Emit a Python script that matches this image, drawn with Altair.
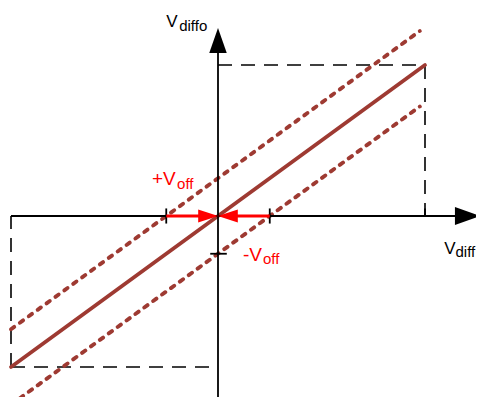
import altair as alt
import pandas as pd

# ---------------- data (chart units, volts) ----------------
main_x = [-4.0, 4.0]
main_y = [-4.0, 4.0]

plus_off_x = [-4.0, 3.9]
plus_off_y = [-3.0, 4.9]
minus_off_x = [-4.0, 3.9]
minus_off_y = [-5.0, 2.9]

box_x = [0.0, 4.0, -4.0, -4.0]
box_y = [4.0, 4.0, -4.0, -4.0]
box_x2 = [4.0, 4.0, 0.0, -4.0]
box_y2 = [4.0, 0.0, -4.0, 0.0]

axis_x = [-4.0, 0.0]
axis_y = [0.0, -5.2]
axis_x2 = [4.64, 0.0]
axis_y2 = [0.0, 4.34]

tick_x = [-1.0, 1.0, 4.0, -0.15]
tick_y = [-0.2, -0.2, 0.0, -1.0]
tick_x2 = [-1.0, 1.0, 4.0, 0.17]
tick_y2 = [0.2, 0.2, 0.2, -1.0]

head_x = [4.82, 0.0]
head_y = [0.0, 4.65]
head_shape = ["M-1,-0.72L1,0L-1,0.72Z", "M0,-1L0.7,1L-0.7,1Z"]

red_x = [-1.0, 1.0]
red_x2 = [-0.3, 0.3]
red_y = [0.0, 0.0]
red_head_x = [-0.19, 0.19]
red_head_y = [0.0, 0.0]
red_head_shape = ["M-1,-0.65L1,0L-1,0.65Z", "M1,-0.65L-1,0L1,0.65Z"]

label_text = ["+V", "off", "-V", "off", "V", "diffo", "V", "diff"]
label_x = [-1.275, -0.79, 0.483, 0.87, -1.0, -0.75, 4.37, 4.59]
label_y = [0.82, 0.715, -1.19, -1.27, 5.0, 4.9, -1.0, -1.09]
label_size = [19, 15, 19, 15, 17, 15, 17, 15]
label_color = ["#FF0000"] * 4 + ["#000000"] * 4

# ---------------- layout ----------------
W, H = 468, 389
ORIGIN = (218.0, 216.0)   # page px of (0,0)
PPU = (51.75, 37.75)      # px per unit
OFFSET = 8.0
xdom = [(OFFSET - ORIGIN[0]) / PPU[0], (OFFSET + W - ORIGIN[0]) / PPU[0]]
ydom = [(ORIGIN[1] - OFFSET - H) / PPU[1], (ORIGIN[1] - OFFSET) / PPU[1]]

xs = alt.Scale(domain=xdom, nice=False, zero=False)
ys = alt.Scale(domain=ydom, nice=False, zero=False)

BROWN = "#9E3A32"


def seg_df(x, y, x2, y2):
    return pd.DataFrame({"x": x, "y": y, "x2": x2, "y2": y2})


def rules(df, **kw):
    return alt.Chart(df).mark_rule(**kw).encode(
        x=alt.X("x:Q", scale=xs, axis=None),
        y=alt.Y("y:Q", scale=ys, axis=None),
        x2="x2:Q",
        y2="y2:Q",
    )


box = rules(seg_df(box_x, box_y, box_x2, box_y2), color="black", strokeWidth=1.6,
            strokeDash=[14, 9])
axes = rules(seg_df(axis_x, axis_y, axis_x2, axis_y2), color="black", strokeWidth=1.8)
ticks = rules(seg_df(tick_x, tick_y, tick_x2, tick_y2), color="black", strokeWidth=1.8)

main = rules(seg_df([main_x[0]], [main_y[0]], [main_x[1]], [main_y[1]]),
             color=BROWN, strokeWidth=3.8, strokeCap="round")
offs = rules(seg_df([plus_off_x[0], minus_off_x[0]], [plus_off_y[0], minus_off_y[0]],
                    [plus_off_x[1], minus_off_x[1]], [plus_off_y[1], minus_off_y[1]]),
             color=BROWN, strokeWidth=3.9, strokeDash=[4, 7], strokeCap="round",
             clip=True)

red = rules(seg_df(red_x, red_y, red_x2, red_y), color="#FF0000", strokeWidth=2.8)


def heads(x, y, shape, color, size):
    df = pd.DataFrame({"x": x, "y": y, "shape": shape})
    return alt.Chart(df).mark_point(filled=True, opacity=1, color=color, size=size,
                                    strokeWidth=0).encode(
        x=alt.X("x:Q", scale=xs, axis=None),
        y=alt.Y("y:Q", scale=ys, axis=None),
        shape=alt.Shape("shape:N", scale=None, legend=None),
    )


axis_heads = heads(head_x, head_y, head_shape, "black", 625)
red_heads = heads(red_head_x, red_head_y, red_head_shape, "#FF0000", 400)

labels_df = pd.DataFrame({"t": label_text, "x": label_x, "y": label_y,
                          "s": label_size, "c": label_color})
labels = alt.Chart(labels_df).mark_text(align="left", baseline="alphabetic",
                                        font="Liberation Sans").encode(
    x=alt.X("x:Q", scale=xs, axis=None),
    y=alt.Y("y:Q", scale=ys, axis=None),
    text="t:N",
    size=alt.Size("s:Q", scale=None, legend=None),
    color=alt.Color("c:N", scale=None, legend=None),
)

chart = alt.layer(box, offs, main, axes, ticks, red, axis_heads, red_heads, labels).properties(
    width=W, height=H, padding=0, autosize=alt.AutoSizeParams(type="none"),
    background="white",
).configure_view(stroke=None)

chart.save("out.html", embed_options={"renderer": "svg", "actions": False})
